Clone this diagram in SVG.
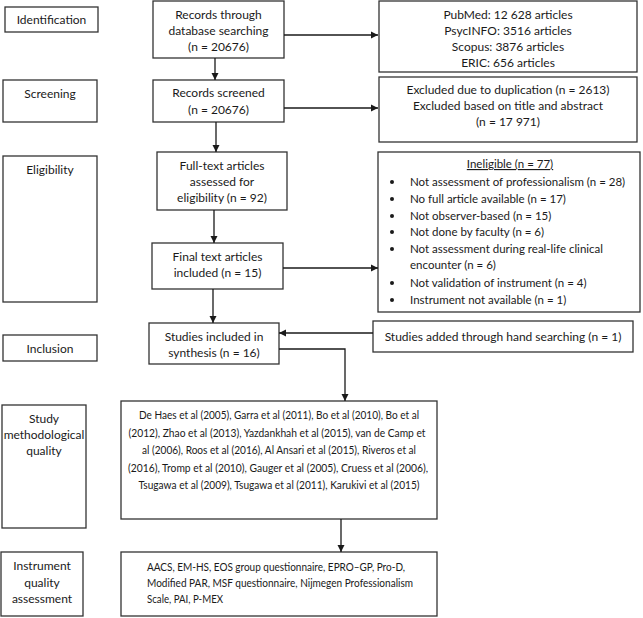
<svg xmlns="http://www.w3.org/2000/svg" width="643" height="618" viewBox="0 0 643 618">
<defs>
<marker id="ah" markerWidth="8" markerHeight="8" refX="7" refY="4" orient="auto" markerUnits="userSpaceOnUse">
<path d="M0,0.5 L7,4 L0,7.5 Z" fill="#1a1a1a"/>
</marker>
<style>
rect{fill:#fff;stroke:#333;stroke-width:1.3}
text{font-family:Lato,"Open Sans","Liberation Sans",sans-serif;font-size:12px;fill:#1a1a1a}
.c{text-anchor:middle}
.s{font-size:11.5px}
.m{font-size:11px}
.ln{fill:none;stroke:#1a1a1a;stroke-width:1.3;marker-end:url(#ah)}
</style>
</defs>
<rect x="0" y="0" width="643" height="618" style="fill:#fff;stroke:none"/>
<g id="stage-identification"><rect x="5" y="7" width="93" height="25"/><text class="c" x="51.5" y="24">Identification</text></g>
<g id="stage-screening"><rect x="3" y="80" width="94" height="42"/><text class="c" x="50" y="98">Screening</text></g>
<g id="stage-eligibility"><rect x="3" y="156" width="94" height="146"/><text class="c" x="50" y="174">Eligibility</text></g>
<g id="stage-inclusion"><rect x="3" y="335" width="94" height="26"/><text class="c" x="50" y="353">Inclusion</text></g>
<g id="stage-study-quality"><rect x="2" y="405" width="84" height="123"/><text class="c" x="44" y="423">Study</text><text class="c" x="44" y="439">methodological</text><text class="c" x="44" y="455">quality</text></g>
<g id="stage-instrument"><rect x="1" y="552" width="82" height="64"/><text class="c" x="42" y="570">Instrument</text><text class="c" x="42" y="587">quality</text><text class="c" x="42" y="603">assessment</text></g>

<g id="records-db"><rect x="153" y="1" width="131" height="57"/><text class="c" x="218.5" y="19">Records through</text><text class="c" x="218.5" y="35">database searching</text><text class="c" x="218.5" y="51">(n = 20676)</text></g>
<g id="records-screened"><rect x="153" y="80" width="131" height="42"/><text class="c" x="218.5" y="97">Records screened</text><text class="c" x="218.5" y="114">(n = 20676)</text></g>
<g id="full-text"><rect x="157" y="152" width="130" height="58"/><text class="c" x="222" y="170">Full-text articles</text><text class="c" x="222" y="186">assessed for</text><text class="c" x="222" y="202">eligibility (n = 92)</text></g>
<g id="final-text"><rect x="152" y="243" width="131" height="46"/><text class="c" x="217.5" y="261">Final text articles</text><text class="c" x="217.5" y="277">included (n = 15)</text></g>
<g id="studies-included"><rect x="149" y="323" width="130" height="41"/><text class="c" x="214" y="341">Studies included in</text><text class="c" x="214" y="357">synthesis (n = 16)</text></g>

<g id="databases"><rect x="379" y="1" width="258" height="71"/><text class="c" x="508" y="19">PubMed: 12 628 articles</text><text class="c" x="508" y="35">PsycINFO: 3516 articles</text><text class="c" x="508" y="51">Scopus: 3876 articles</text><text class="c" x="508" y="67">ERIC: 656 articles</text></g>
<g id="excluded"><rect x="379" y="77" width="258" height="65"/><text class="c" x="508" y="94">Excluded due to duplication (n = 2613)</text><text class="c" x="508" y="110">Excluded based on title and abstract</text><text class="c" x="508" y="126">(n = 17 971)</text></g>
<g id="ineligible"><rect x="378" y="152" width="262" height="160"/>
<text class="c s" x="510" y="168" text-decoration="underline">Ineligible (n = 77)</text>
<g style="fill:#1a1a1a"><circle cx="392" cy="182" r="2"/><circle cx="392" cy="199" r="2"/><circle cx="392" cy="216" r="2"/><circle cx="392" cy="232" r="2"/><circle cx="392" cy="249" r="2"/><circle cx="392" cy="283" r="2"/><circle cx="392" cy="300" r="2"/></g>
<text class="s" x="410" y="186">Not assessment of professionalism (n = 28)</text>
<text class="s" x="410" y="203">No full article available (n = 17)</text>
<text class="s" x="410" y="220">Not observer-based (n = 15)</text>
<text class="s" x="410" y="236">Not done by faculty (n = 6)</text>
<text class="s" x="410" y="253">Not assessment during real-life clinical</text>
<text class="s" x="410" y="269">encounter (n = 6)</text>
<text class="s" x="410" y="287">Not validation of instrument (n = 4)</text>
<text class="s" x="410" y="304">Instrument not available (n = 1)</text>
</g>
<g id="hand-search"><rect x="373" y="321" width="260" height="31"/><text class="c" x="503" y="341">Studies added through hand searching (n = 1)</text></g>

<g id="study-list"><rect x="121" y="401" width="316" height="118"/>
<text class="c m" x="279" y="419" textLength="280" lengthAdjust="spacingAndGlyphs">De Haes et al (2005), Garra et al (2011), Bo et al (2010), Bo et al</text>
<text class="c m" x="277" y="437" textLength="297" lengthAdjust="spacingAndGlyphs">(2012), Zhao et al (2013), Yazdankhah et al (2015), van de Camp et</text>
<text class="c m" x="279" y="454" textLength="274" lengthAdjust="spacingAndGlyphs">al (2006), Roos et al (2016), Al Ansari et al (2015), Riveros et al</text>
<text class="c m" x="278" y="472" textLength="300" lengthAdjust="spacingAndGlyphs">(2016), Tromp et al (2010), Gauger et al (2005), Cruess et al (2006),</text>
<text class="c m" x="279" y="489" textLength="281" lengthAdjust="spacingAndGlyphs">Tsugawa et al (2009), Tsugawa et al (2011), Karukivi et al (2015)</text>
</g>
<g id="instrument-list"><rect x="121" y="552" width="316" height="64"/>
<text class="m" x="147" y="571" textLength="258" lengthAdjust="spacingAndGlyphs">AACS, EM-HS, EOS group questionnaire, EPRO–GP, Pro-D,</text>
<text class="m" x="147" y="587" textLength="266" lengthAdjust="spacingAndGlyphs">Modified PAR, MSF questionnaire, Nijmegen Professionalism</text>
<text class="m" x="147" y="603" textLength="76" lengthAdjust="spacingAndGlyphs">Scale, PAI, P-MEX</text>
</g>

<g id="connectors">
<path class="ln" d="M284,35 H378"/>
<path class="ln" d="M215,58 V80"/>
<path class="ln" d="M284,108 H378"/>
<path class="ln" d="M216,122 V152"/>
<path class="ln" d="M214,210 V243"/>
<path class="ln" d="M283,268 H378"/>
<path class="ln" d="M213,289 V323"/>
<path class="ln" d="M373,333 H279"/>
<path class="ln" d="M279,349 H345 V401"/>
<path class="ln" d="M341,519 V552"/>
</g>
</svg>
